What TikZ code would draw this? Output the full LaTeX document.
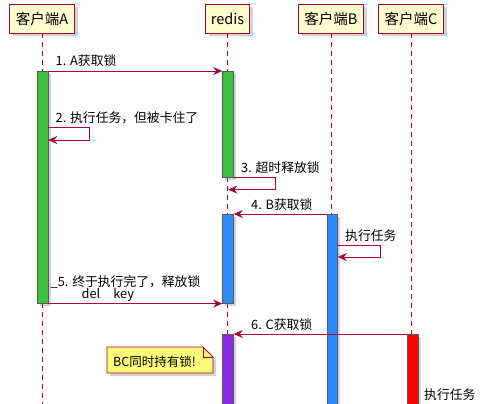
\documentclass[tikz,border=0pt]{standalone}
\usepackage{fontspec}
\setmainfont{Noto Sans CJK SC}
\usetikzlibrary{arrows.meta,shadows}
\definecolor{umlred}{HTML}{A80036}
\definecolor{umlbox}{HTML}{FEFECE}
\definecolor{umlnote}{HTML}{FBFB77}
\definecolor{lockgreen}{HTML}{3CC03C}
\definecolor{lockblue}{HTML}{2E8BFF}
\definecolor{lockpurple}{HTML}{8A2BE2}
\begin{document}
\begin{tikzpicture}[x=1pt, y=-1pt,
		part/.style = {draw=umlred, fill=umlbox, line width=0.9pt, minimum height=29pt, inner sep=0pt,
			font=\fontsize{14.5}{16}\selectfont, drop shadow={shadow xshift=3pt, shadow yshift=-3pt, opacity=0.35}},
		bar/.style = {draw=black!65, line width=0.6pt, anchor=north, minimum width=11pt, inner sep=0pt,
			drop shadow={shadow xshift=2.5pt, shadow yshift=-2.5pt, opacity=0.35}},
		life/.style = {draw=umlred, dashed, dash pattern=on 5pt off 4pt, line width=0.7pt},
		msg/.style = {draw=umlred, line width=0.8pt, -{Stealth[length=9pt, width=8pt, inset=3pt]}},
		lbl/.style = {anchor=base west, inner sep=0pt, xshift=7pt, yshift=5pt, font=\fontsize{12.8}{15}\selectfont, text=black}]
	\useasboundingbox (0,0) rectangle (487,404);
	\coordinate (bottom) at (0,420);
	% participants
	\node[part, minimum width=65pt] (pa) at (42,18.5) {客户端A};
	\node[part, minimum width=44pt] (pr) at (227.5,18.5) {redis};
	\node[part, minimum width=65pt] (pb) at (331,18.5) {客户端B};
	\node[part, minimum width=65pt] (pc) at (411,18.5) {客户端C};
	\foreach \p in {pa,pr,pb,pc}
		\draw[life] (\p.south) -- (\p.south |- bottom);
	% activation bars
	\node[bar, fill=lockgreen, minimum height=232pt] (abar) at (42.5,71) {};
	\node[bar, fill=lockgreen, minimum height=106pt] (rbar1) at (228,71) {};
	\node[bar, fill=lockblue, minimum height=89pt] (rbar2) at (228,214) {};
	\node[bar, fill=lockpurple, minimum height=90pt] (rbar3) at (228,334) {};
	\node[bar, fill=lockblue, minimum height=210pt, minimum width=10pt] (bbar) at (332.5,214) {};
	\node[bar, fill=red, minimum height=90pt] (cbar) at (412.5,334) {};
	% messages
	\draw[msg] (abar.north east) -- node[lbl, pos=0] {1. A获取锁} (rbar1.north west);
	\draw[msg] ([yshift=-56pt]abar.north east) -- node[lbl, pos=0] {2. 执行任务，但被卡住了} ++(41,0) -- ++(0,13) -- ++(-41,0);
	\draw[msg] (rbar1.south east) -- node[lbl, pos=0] {3. 超时释放锁} ++(42,0) -- ++(0,12) -- ++(-47.5,0);
	\draw[msg] (bbar.north west) -- node[lbl, pos=1, xshift=10pt] {4. B获取锁} (rbar2.north east);
	\draw[msg] ([yshift=-31pt]bbar.north east) -- node[lbl, pos=0] {执行任务} ++(43,0) -- ++(0,12) -- ++(-43,0);
	\draw[msg] (abar.south east) -- node[lbl, pos=0, xshift=-5pt, align=left]
		{\_5. 终于执行完了，释放锁\\[-3pt]\hspace{31pt}del\hspace{13pt}key} (rbar2.south west);
	\draw[msg] (cbar.north west) -- node[lbl, pos=1, xshift=10pt] {6. C获取锁} (rbar3.north east);
	% note
	\filldraw[draw=umlred, fill=umlnote, line width=0.8pt, drop shadow={shadow xshift=3pt, shadow yshift=-3pt, opacity=0.35}]
		(107,373) -- (107,347) -- (203,347) -- (213,357) -- (213,373) -- cycle;
	\draw[umlred, line width=0.8pt] (203,347) -- (203,357) -- (213,357);
	\node[anchor=base west, inner sep=0pt, font=\fontsize{12.5}{14}\selectfont] (note) at (113,366) {BC同时持有锁!};
	\node[anchor=base west, inner sep=0pt, font=\fontsize{12.8}{15}\selectfont] (ctask) at (424,399) {执行任务};
\end{tikzpicture}
\end{document}
